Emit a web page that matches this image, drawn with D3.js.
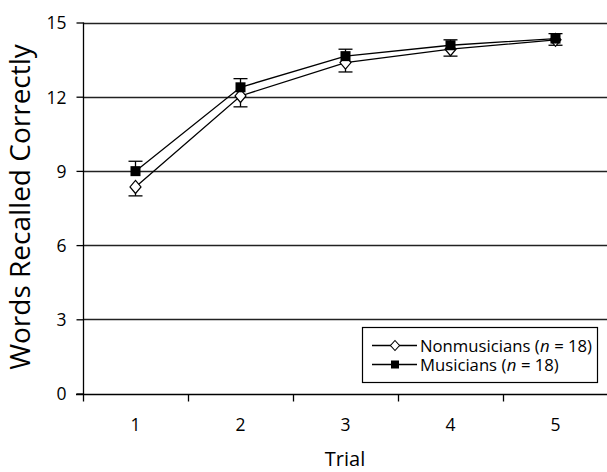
<!DOCTYPE html>
<html>
<head>
<meta charset="utf-8">
<script src="https://cdn.jsdelivr.net/npm/d3@7/dist/d3.min.js"></script>
<style>
  html, body { margin: 0; padding: 0; background: #fff; }
  svg { display: block; }
  text { font-family: "Open Sans", "Noto Sans", sans-serif; fill: #000; }
</style>
</head>
<body>
<svg id="chart" width="607" height="472"></svg>
<script>
const trials = [1, 2, 3, 4, 5];
const yTicks = [0, 3, 6, 9, 12, 15];
const nonmusicians = [8.35, 12.03, 13.38, 13.92, 14.30];
const nonmusiciansSE = [0.36, 0.44, 0.38, 0.28, 0.22];
const musicians = [8.99, 12.38, 13.64, 14.08, 14.35];
const musiciansSE = [0.40, 0.35, 0.28, 0.22, 0.2];
const seriesNames = ["Nonmusicians", "Musicians"];

(function () {
const svg = d3.select("#chart");
const mLeft = 83, mRight = 608, mTop = 22.5, mBottom = 393.5;

const x = d3.scaleBand().domain(trials).range([mLeft, mRight]).padding(0);
const y = d3.scaleLinear().domain([0, 15]).range([mBottom, mTop]);
const cx = d => x(d) + x.bandwidth() / 2;

// gridlines
svg.append("g").selectAll("line").data(yTicks.filter(d => d > 0)).join("line")
  .attr("x1", mLeft).attr("x2", mRight)
  .attr("y1", d => Math.round(y(d)) + 0.5).attr("y2", d => Math.round(y(d)) + 0.5)
  .attr("stroke", "#222").attr("stroke-width", 1.4);

// y axis
const yAxis = svg.append("g").attr("transform", `translate(${mLeft + 0.5},0)`)
  .call(d3.axisLeft(y).tickValues(yTicks).tickSize(7).tickPadding(10).tickFormat(d3.format("d")));
yAxis.select(".domain").attr("stroke", "#000").attr("stroke-width", 1.3).attr("d", `M0,${mTop}V${mBottom + 0.5}`);
yAxis.selectAll(".tick line").attr("stroke", "#000").attr("stroke-width", 1.3);
yAxis.selectAll(".tick text").style("font-size", "17.5px").attr("dy", "0.36em");

// x axis
const xAxisG = svg.append("g").attr("transform", `translate(0,${Math.round(mBottom) + 0.5})`);
xAxisG.append("line").attr("x1", mLeft - 7).attr("x2", mRight).attr("stroke", "#000").attr("stroke-width", 1.3);
const bounds = trials.map(d => x(d));
xAxisG.selectAll(".xt").data(bounds).join("line").attr("class", "xt")
  .attr("x1", d => Math.round(d) + 0.5).attr("x2", d => Math.round(d) + 0.5)
  .attr("y1", 0).attr("y2", 7).attr("stroke", "#000").attr("stroke-width", 1.3);
xAxisG.selectAll(".xl").data(trials).join("text").attr("class", "xl")
  .attr("x", d => cx(d)).attr("y", 36).attr("text-anchor", "middle")
  .style("font-size", "17.5px").text(d => d);

// axis titles
svg.append("text").attr("transform", `translate(30,207) rotate(-90)`)
  .attr("text-anchor", "middle").style("font-size", "28px").text("Words Recalled Correctly");
svg.append("text").attr("x", (mLeft + mRight) / 2 - 0.5).attr("y", 466)
  .attr("text-anchor", "middle").style("font-size", "20px").text("Trial");

const line = d3.line().x((d, i) => cx(trials[i])).y(d => y(d));
const cap = 7;

// error bars
const errG = svg.append("g").attr("stroke", "#000").attr("stroke-width", 1.3);
musicians.forEach((v, i) => {
  const xx = cx(trials[i]), y0 = y(v), y1 = y(v + musiciansSE[i]);
  errG.append("line").attr("x1", xx).attr("x2", xx).attr("y1", y0).attr("y2", y1);
  errG.append("line").attr("x1", xx - cap).attr("x2", xx + cap).attr("y1", y1).attr("y2", y1);
});
nonmusicians.forEach((v, i) => {
  const xx = cx(trials[i]), y0 = y(v), y1 = y(v - nonmusiciansSE[i]);
  errG.append("line").attr("x1", xx).attr("x2", xx).attr("y1", y0).attr("y2", y1);
  errG.append("line").attr("x1", xx - cap).attr("x2", xx + cap).attr("y1", y1).attr("y2", y1);
});

// lines
svg.append("path").datum(nonmusicians).attr("d", line).attr("fill", "none").attr("stroke", "#000").attr("stroke-width", 1.3);
svg.append("path").datum(musicians).attr("d", line).attr("fill", "none").attr("stroke", "#000").attr("stroke-width", 1.3);

// markers
const diamond = (xx, yy, w, h) => `M${xx},${yy - h}L${xx + w},${yy}L${xx},${yy + h}L${xx - w},${yy}Z`;
svg.append("g").selectAll("path").data(nonmusicians).join("path")
  .attr("d", (d, i) => diamond(cx(trials[i]), y(d), 5.5, 6.5))
  .attr("fill", "#fff").attr("stroke", "#000").attr("stroke-width", 1.2);
svg.append("g").selectAll("rect").data(musicians).join("rect")
  .attr("x", (d, i) => cx(trials[i]) - 5).attr("y", d => y(d) - 5)
  .attr("width", 10).attr("height", 10).attr("fill", "#000");

// legend
const lg = svg.append("g");
lg.append("rect").attr("x", 362.5).attr("y", 327.5).attr("width", 235).attr("height", 55)
  .attr("fill", "#fff").attr("stroke", "#000").attr("stroke-width", 1.2);
const rows = [345.5, 364.5];
rows.forEach((ry, i) => {
  lg.append("line").attr("x1", 372).attr("x2", 417).attr("y1", ry).attr("y2", ry)
    .attr("stroke", "#000").attr("stroke-width", 1.3);
  if (i === 0) {
    lg.append("path").attr("d", diamond(395, ry, 4.5, 5)).attr("fill", "#fff").attr("stroke", "#000").attr("stroke-width", 1.1);
  } else {
    lg.append("rect").attr("x", 391).attr("y", ry - 4).attr("width", 8).attr("height", 8).attr("fill", "#000");
  }
  const parts = [[seriesNames[i] + " (", "normal"], ["n", "italic"], ["\u00a0= 18)", "normal"]];
  let tx = 420;
  parts.forEach(([s, st]) => {
    const t = lg.append("text").attr("x", tx).attr("y", ry + 6)
      .style("font-size", "16.7px").style("font-style", st).text(s);
    tx += t.node().getComputedTextLength() + 0.3;
  });
});
})();
</script>
</body>
</html>
